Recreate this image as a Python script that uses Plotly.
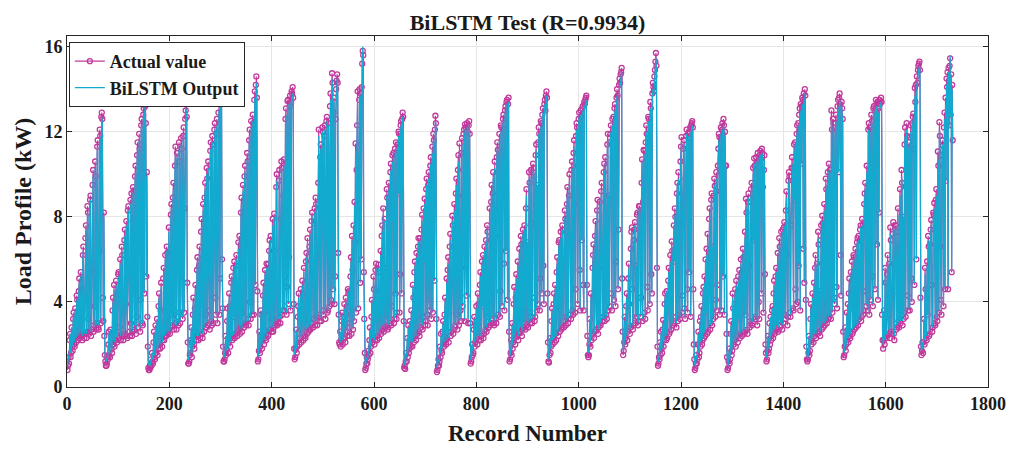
import plotly.graph_objects as go

TITLE = "BiLSTM Test (R=0.9934)"
X_LABEL = "Record Number"
Y_LABEL = "Load Profile (kW)"
SERIES_NAMES = ["Actual value", "BiLSTM Output"]
X_TICKS = [0, 200, 400, 600, 800, 1000, 1200, 1400, 1600, 1800]
Y_TICKS = [0, 4, 8, 12, 16]

# Actual load profile (kW), one line per load cycle
actual_kw = [
    0.8,1.0,1.4,1.1,2.2,2.5,1.4,1.6,2.8,1.9,1.7,3.2,3.5,2.0,1.9,3.7,2.6,2.1,4.3,4.1,2.2,2.4,4.5,5.1,2.3,2.5,5.4,4.6,2.4,2.2,6.2,6.6,2.5,2.3,4.1,7.0,7.6,2.3,2.6,8.5,8.2,3.2,2.5,2.6,8.8,9.0,2.4,2.7,5.5,9.5,10.2,2.6,2.9,3.8,10.6,9.9,2.7,3.0,11.3,11.6,2.8,2.7,6.4,12.1,11.8,3.0,12.7,12.9,12.6,4.2,3.1,8.2,2.4,1.5,1.2,1.0,
    1.0,1.1,1.4,1.3,2.0,2.6,1.5,1.4,2.7,2.2,1.8,1.6,3.6,4.2,2.0,4.8,1.9,2.2,3.9,5.0,2.2,2.1,4.4,5.3,5.4,2.3,2.8,6.0,2.2,2.5,6.6,6.2,3.5,2.2,2.4,6.9,7.4,2.5,3.9,7.8,2.4,2.3,8.3,8.5,5.2,2.6,2.4,8.8,3.0,9.1,2.4,2.6,9.4,9.2,4.6,2.7,9.9,10.4,2.5,3.3,10.9,11.5,2.8,6.3,11.9,11.2,2.6,4.1,12.3,12.6,3.0,2.9,12.8,13.1,4.4,13.4,13.2,12.4,5.2,10.1,3.3,1.9,0.9,0.8,
    0.8,1.0,0.9,1.3,1.0,1.6,1.2,1.1,2.1,2.6,1.4,1.3,2.9,1.6,2.4,3.2,1.5,1.8,3.8,4.4,2.0,1.8,3.6,4.9,2.3,1.9,2.2,5.1,5.6,2.2,2.4,6.2,3.1,2.4,6.6,6.3,2.5,2.6,7.5,4.8,2.5,2.8,8.1,8.6,3.4,2.9,8.9,9.6,2.7,3.6,10.4,11.3,3.0,2.7,11.0,7.8,3.3,2.9,11.5,10.6,3.0,3.5,11.7,11.2,5.0,3.2,11.8,12.2,3.5,8.4,12.6,13.0,13.3,12.7,4.9,2.1,1.1,
    1.1,1.2,1.5,1.6,2.2,2.8,1.4,1.9,3.4,4.2,2.0,1.8,3.7,4.8,2.6,2.2,5.5,6.1,2.4,2.2,5.7,6.6,2.3,3.9,7.3,7.9,2.5,2.3,8.6,5.2,2.6,8.9,9.6,3.4,2.8,10.3,9.8,2.9,10.6,6.7,3.6,2.7,11.1,11.5,3.1,2.9,11.8,11.4,3.0,8.0,12.1,12.4,4.2,3.4,11.9,12.6,3.0,9.6,12.9,13.3,3.4,5.1,13.6,13.9,14.0,6.0,3.7,1.9,1.2,
    1.2,1.3,1.6,2.4,1.5,1.8,3.1,3.7,1.6,2.1,4.4,3.8,1.9,2.4,4.9,5.2,2.2,2.3,5.6,3.3,5.9,2.3,2.5,5.7,6.2,2.6,2.4,4.6,6.8,2.7,7.1,2.5,2.8,8.2,8.9,2.6,3.5,9.5,5.9,2.8,9.9,10.4,3.0,2.9,7.2,11.0,10.6,3.2,2.9,11.6,12.1,4.0,3.2,12.5,8.3,3.4,12.8,12.4,3.4,13.5,13.9,4.8,14.2,14.6,13.6,4.5,
    1.2,1.3,1.7,2.6,1.6,1.9,3.6,3.4,1.8,2.2,4.3,4.9,2.0,2.6,5.5,2.3,2.2,5.8,3.6,5.75,2.4,2.5,6.4,6.9,2.7,7.1,5.1,2.6,3.2,7.9,2.6,2.8,8.15,6.4,2.9,3.1,9.4,10.0,2.9,4.4,3.0,9.7,10.2,3.3,3.0,7.9,10.6,10.3,3.4,3.6,9.0,10.7,3.6,5.2,12.6,13.1,3.4,4.7,13.45,13.5,3.9,6.1,13.2,13.7,3.6,13.4,13.9,13.8,14.1,13.6,3.9,1.8,
    1.3,1.4,1.8,2.7,1.6,1.9,3.3,3.8,4.4,2.0,2.3,3.6,4.6,2.1,2.7,5.0,4.4,2.2,5.6,3.1,2.4,2.3,5.9,6.3,2.5,7.0,4.2,2.6,2.7,6.6,7.4,2.7,3.0,7.8,8.2,5.3,2.8,3.2,7.7,8.4,2.9,8.9,8.6,3.3,2.9,6.1,9.6,12.1,3.4,3.1,10.8,11.4,3.1,7.4,12.2,12.0,3.4,3.6,11.8,12.3,3.2,8.8,12.5,12.7,3.5,3.6,12.4,10.3,3.8,13.2,13.8,4.1,3.9,14.75,14.3,4.6,12.9,13.6,3.9,5.2,12.6,14.0,14.4,14.7,14.3,6.3,3.4,2.1,
    2.0,2.6,1.9,2.2,3.1,3.5,2.0,2.3,2.8,3.9,2.3,2.1,4.2,3.4,2.6,2.4,4.6,4.4,4.5,2.4,3.0,5.2,6.1,2.5,7.1,5.5,2.7,7.6,3.1,8.7,6.8,11.45,3.5,10.2,12.3,13.9,3.7,8.5,13.5,14.0,4.9,13.8,6.0,14.1,15.2,15.8,15.6,5.4,3.2,1.6,
    0.8,0.9,1.1,1.4,1.1,1.3,1.7,1.5,2.2,2.8,1.6,1.9,3.3,4.1,2.1,2.3,5.2,4.6,2.0,2.2,5.5,5.8,3.2,2.2,2.4,5.4,5.75,2.3,2.6,4.5,6.4,2.5,7.1,7.6,2.7,8.4,2.6,5.6,7.9,2.8,2.9,3.4,9.3,8.9,2.7,2.8,9.6,6.7,3.0,10.1,10.5,2.9,3.8,10.9,7.8,11.0,3.0,3.2,11.2,4.4,11.5,3.2,3.5,11.4,9.1,12.0,11.9,3.5,5.3,12.3,12.5,4.4,12.6,12.9,12.7,3.1,
    0.9,1.0,0.85,1.2,1.6,1.2,2.3,1.4,2.9,1.6,1.8,3.1,2.0,1.9,3.6,2.3,1.9,4.8,4.2,2.1,5.4,5.9,2.4,2.2,6.3,3.7,2.5,6.6,7.0,2.6,2.4,7.0,4.6,2.8,7.4,8.1,2.7,3.3,8.4,5.9,8.85,2.9,3.1,9.3,9.8,3.4,2.9,9.5,10.1,4.1,3.6,10.4,10.8,3.2,8.2,11.3,3.5,11.9,11.6,5.0,12.1,12.75,12.4,3.2,
    0.7,0.8,1.0,1.3,1.0,1.2,1.9,1.4,2.5,1.7,1.6,2.6,3.1,2.0,1.9,3.4,4.2,2.2,2.0,5.1,2.3,5.5,6.1,2.1,3.5,6.6,7.2,2.4,2.6,4.9,8.05,7.6,2.5,2.7,8.6,6.3,2.9,9.1,9.8,3.4,2.7,10.2,10.9,2.9,11.45,7.5,3.6,3.1,11.0,11.7,3.8,9.0,11.9,12.1,3.1,12.35,12.2,5.6,4.3,12.4,12.0,3.0,12.3,12.5,11.9,3.0,
    1.1,1.2,1.4,2.0,1.5,1.6,2.7,3.3,1.9,2.1,2.9,3.8,2.3,2.0,4.4,3.9,2.2,2.6,4.8,5.4,2.2,2.4,5.9,3.8,6.2,2.3,2.5,6.6,4.7,2.7,6.9,2.6,7.6,7.3,3.3,2.8,5.8,8.4,2.9,3.0,8.7,9.5,3.2,9.1,10.1,3.0,2.9,10.6,7.1,3.2,3.0,10.8,11.5,11.15,3.4,8.4,11.9,3.3,4.5,12.3,12.2,3.8,9.7,12.6,12.8,5.8,3.6,13.0,13.2,6.4,13.4,13.5,4.1,13.3,13.6,2.6,
    1.2,1.3,1.6,2.2,1.5,3.0,1.8,2.1,3.9,4.7,2.3,2.0,4.2,5.3,2.4,3.6,5.9,2.2,2.5,6.5,4.3,2.6,7.1,6.7,2.4,2.7,7.4,5.6,2.8,7.6,3.2,2.7,8.4,9.3,2.9,6.8,2.8,3.5,10.1,9.6,3.0,3.3,10.2,7.7,3.0,4.2,10.5,10.3,9.9,3.1,3.3,10.9,11.4,3.6,9.5,3.9,11.5,12.2,11.9,3.6,5.1,12.5,12.4,4.4,12.8,13.1,5.7,3.9,13.3,13.5,13.0,13.7,13.9,13.6,4.4,2.1,
    1.2,1.15,1.5,2.3,1.6,1.9,3.1,3.7,2.0,2.3,3.9,4.4,2.1,4.8,2.5,2.2,5.4,6.1,3.8,2.4,6.8,6.9,2.6,4.5,7.3,2.7,2.8,7.6,7.4,3.1,2.8,5.9,8.3,7.9,2.9,3.3,8.6,9.4,3.0,3.2,9.0,10.0,7.2,3.4,3.2,10.2,10.6,3.6,3.4,11.0,11.6,8.6,3.5,4.6,11.8,12.4,12.2,3.9,10.4,12.6,12.9,5.5,3.6,13.0,12.7,6.9,13.1,13.2,4.8,3.6,13.4,13.3,13.5,13.6,13.7,4.8,2.4,1.5,
    1.4,1.5,2.0,3.2,1.9,4.4,2.2,2.5,5.6,6.2,6.7,2.3,2.6,7.1,7.8,4.1,2.7,8.3,8.8,2.5,2.8,5.6,8.7,3.0,2.9,9.2,9.6,6.4,3.1,3.3,10.1,10.5,3.1,10.8,8.1,3.4,3.2,11.4,11.9,3.6,9.0,3.8,11.5,11.9,12.3,4.4,3.6,12.6,10.8,12.7,4.1,13.1,13.3,3.8,5.9,13.6,14.0,13.7,4.6,7.4,14.2,14.5,14.3,14.7,14.8,15.0,5.1,2.6,
    1.5,1.7,2.1,3.3,2.0,2.3,3.8,4.4,2.2,2.6,5.1,5.8,3.9,2.5,2.8,6.5,7.3,7.5,4.6,2.7,2.9,6.9,7.4,7.75,3.0,5.7,3.3,8.1,8.2,2.9,3.1,8.5,8.5,8.2,3.3,4.2,9.6,10.7,3.1,8.7,11.15,11.1,3.5,3.2,11.5,12.3,11.9,4.7,3.6,12.7,12.6,10.2,3.9,13.4,13.1,5.3,4.4,13.8,14.3,14.1,13.9,14.6,14.9,15.3,15.7,15.1,5.6,1.9,
    1.0,1.1,1.4,1.3,2.1,1.5,2.6,1.8,1.6,2.7,3.15,1.9,2.2,3.9,4.4,2.4,2.2,4.5,2.3,3.6,5.0,5.6,2.5,2.6,6.2,4.8,2.7,6.85,6.4,2.9,3.0,7.6,5.9,8.4,8.0,3.3,2.8,9.1,9.6,3.1,10.1,7.7,3.4,3.2,10.6,11.3,11.75,3.5,4.3,8.9,11.2,11.6,3.7,3.2,9.8,11.8,12.1,4.6,3.5,11.9,11.7,5.4,12.0,12.2,3.3,12.3,12.4,12.5,12.2,4.6,2.0,1.3,
    0.8,0.9,1.1,1.5,1.1,1.3,2.0,2.6,1.4,1.6,3.1,1.9,3.3,3.8,2.0,2.2,4.4,4.7,2.3,5.2,2.4,6.0,3.5,6.5,2.5,7.2,2.6,5.4,7.9,8.4,2.7,3.0,8.8,9.1,2.9,6.6,3.2,9.0,9.8,9.45,3.3,4.1,10.1,3.6,4.8,10.4,11.2,11.9,11.75,3.4,9.2,12.2,3.6,12.1,12.4,5.2,12.6,12.3,3.4,12.0,10.4,10.4,2.5,1.4,
    0.8,0.9,1.2,1.8,1.1,1.3,2.5,3.1,1.5,1.7,4.4,3.7,2.0,2.2,3.9,4.6,1.9,5.0,4.3,2.4,2.1,5.2,3.2,5.5,2.3,2.5,6.0,5.1,2.4,4.1,6.5,6.1,2.6,2.5,7.3,3.4,8.85,8.2,2.7,2.5,8.7,9.1,5.7,2.8,3.1,8.9,9.3,9.6,2.9,3.0,10.3,6.9,10.75,10.4,3.3,3.2,10.8,8.2,2.9,11.0,10.6,4.0,3.2,10.9,11.1,10.7,4.4,11.2,11.0,9.4,3.5,10.2,10.9,5.3,2.0,1.6,
    1.2,1.3,1.7,2.4,1.6,1.8,3.0,2.0,3.3,2.2,2.4,3.6,3.8,2.3,4.4,5.0,2.5,2.6,5.2,5.6,2.8,4.4,6.3,2.6,2.7,7.0,6.6,3.1,2.9,7.3,5.0,2.7,7.4,3.0,7.5,7.75,3.4,3.2,8.3,9.2,6.2,2.9,3.3,9.7,10.1,9.9,3.5,3.3,7.6,10.3,10.8,10.3,3.7,3.6,11.4,8.8,11.5,4.6,3.9,11.9,12.3,4.0,12.4,5.7,12.8,13.1,3.6,13.3,10.5,13.2,13.6,13.5,6.5,13.8,4.9,14.0,13.7,4.1,1.9,1.3,
    1.2,1.3,1.6,2.4,1.5,1.7,3.2,3.9,2.0,2.2,4.4,3.6,2.1,4.9,2.4,5.6,6.2,2.3,3.5,5.8,2.5,7.3,6.7,2.6,4.5,2.4,6.9,7.6,2.7,8.05,7.7,2.8,5.3,8.6,2.9,3.1,9.8,9.3,3.0,6.6,10.1,3.2,10.5,3.3,10.2,8.5,3.2,13.0,12.1,3.5,12.6,12.4,4.2,3.9,11.9,12.4,12.8,4.7,3.7,13.2,13.5,10.1,13.6,13.8,13.3,6.2,4.3,13.4,13.1,12.6,2.6,
    1.4,1.5,1.9,2.8,1.7,2.0,3.5,2.2,3.9,2.1,4.4,5.1,2.4,2.3,5.4,3.7,5.9,2.5,2.6,6.2,6.1,2.7,4.6,6.5,2.8,3.0,6.8,7.0,2.9,7.1,3.2,5.8,7.4,7.6,3.1,3.3,7.9,7.6,3.4,3.6,8.6,9.1,9.6,4.5,3.8,10.4,7.3,3.6,12.1,12.4,3.4,12.2,9.0,4.1,12.8,12.5,5.2,3.8,13.1,13.2,10.6,4.6,13.0,13.5,13.3,6.7,13.4,4.1,13.1,8.2,13.5,13.3,13.4,13.6,13.4,3.4,2.2,
    1.8,2.2,3.6,2.0,5.6,4.9,2.4,2.3,5.3,6.2,3.3,2.5,5.8,2.3,7.5,6.9,2.6,2.5,4.4,7.2,7.75,2.5,2.2,7.6,5.6,7.6,2.7,2.8,7.3,8.4,3.1,2.8,6.5,9.3,3.0,3.4,10.2,9.6,2.9,8.0,3.2,3.5,11.4,12.2,3.3,9.4,12.4,11.8,4.3,3.6,11.2,11.5,3.6,11.75,12.3,5.1,4.0,12.4,12.7,12.85,11.2,4.8,14.06,13.4,14.2,6.0,14.6,14.3,14.9,15.1,15.2,15.3,14.9,4.2,1.9,
    1.5,1.7,2.1,1.6,2.1,3.2,2.0,5.6,4.6,2.3,2.2,5.9,3.4,7.1,6.6,2.4,2.5,6.7,7.4,7.85,4.8,2.6,2.8,8.2,8.1,8.65,3.0,2.9,8.8,9.3,3.3,3.1,11.07,10.4,3.5,12.45,11.8,6.6,4.1,3.4,10.9,11.6,11.35,3.8,12.2,12.9,4.6,13.6,9.7,14.5,14.1,14.8,4.6,15.0,12.3,15.1,15.45,12.8,14.7,5.4,14.2,11.6,
]

# BiLSTM model output (kW), same cycles
bilstm_kw = [
    1.0,1.2,1.5,1.3,2.3,2.5,1.6,1.8,2.8,2.1,1.9,3.1,3.4,2.2,2.1,3.6,2.7,2.3,4.1,4.0,2.4,2.6,4.4,4.9,2.5,2.7,5.2,4.5,2.6,2.4,6.0,6.4,2.7,2.5,4.1,6.8,7.4,2.5,2.8,8.2,8.0,3.3,2.7,2.8,8.6,8.8,2.6,2.9,5.5,9.2,9.9,2.8,3.1,3.9,10.3,9.7,2.9,3.2,11.0,11.3,3.0,2.9,6.5,11.8,11.6,3.2,12.4,12.7,12.4,4.3,3.3,8.0,2.6,1.7,1.4,1.2,
    1.2,1.3,1.5,1.5,2.1,2.5,1.7,1.6,2.7,2.3,2.0,1.8,3.5,4.0,2.2,4.6,2.1,2.4,3.9,4.8,2.4,2.3,4.4,5.1,5.2,2.5,2.9,5.8,2.4,2.7,6.4,6.1,3.5,2.4,2.6,6.7,7.1,2.7,3.9,7.6,2.6,2.5,8.0,8.3,5.2,2.8,2.6,8.6,3.1,8.9,2.6,2.8,9.1,9.1,4.6,2.9,9.6,10.1,2.7,3.4,10.6,11.2,3.0,6.3,11.6,11.0,2.8,4.2,12.0,12.3,3.1,3.0,12.6,12.9,4.5,13.2,13.0,12.2,5.2,9.9,3.4,2.1,1.1,1.0,
    1.0,1.1,1.0,1.3,1.2,1.6,1.3,1.3,2.1,2.5,1.5,1.5,2.8,1.8,2.5,3.1,1.7,2.0,3.7,4.2,2.1,2.0,3.6,4.7,2.4,2.1,2.4,5.0,5.4,2.4,2.6,6.0,3.2,2.5,6.4,6.2,2.6,2.7,7.3,4.8,2.6,2.9,7.9,8.4,3.4,3.0,8.7,9.3,2.9,3.6,10.1,11.0,3.1,2.9,10.8,7.7,3.4,3.0,11.2,10.5,3.1,3.6,11.4,11.0,5.0,3.3,11.5,11.9,3.6,8.4,12.3,12.8,13.1,12.5,5.0,2.3,1.3,
    1.3,1.4,1.6,1.8,2.3,2.8,1.6,2.0,3.3,4.0,2.2,2.0,3.7,4.6,2.7,2.4,5.3,5.9,2.6,2.4,5.6,6.4,2.5,3.9,7.0,7.6,2.7,2.5,8.3,5.2,2.8,8.7,9.3,3.5,3.0,10.0,9.7,3.1,10.3,6.7,3.7,2.9,10.8,11.2,3.2,3.1,11.5,11.3,3.2,8.0,11.8,12.1,4.3,3.5,11.8,12.3,3.2,9.5,12.6,13.0,3.5,5.2,13.3,13.6,13.8,6.0,3.8,2.1,1.4,
    1.4,1.5,1.7,2.4,1.7,2.0,3.0,3.6,1.8,2.3,4.2,3.8,2.1,2.6,4.7,5.1,2.4,2.5,5.4,3.3,5.7,2.5,2.7,5.6,6.0,2.8,2.6,4.6,6.5,2.9,6.9,2.7,3.0,7.9,8.6,2.8,3.5,9.2,5.9,3.0,9.7,10.1,3.1,3.1,7.2,10.7,10.5,3.3,3.1,11.3,11.8,4.1,3.3,12.2,8.3,3.5,12.5,12.3,3.5,13.2,13.6,4.9,13.9,14.3,13.4,4.6,
    1.4,1.5,1.7,2.5,1.8,2.1,3.5,3.3,2.0,2.4,4.1,4.7,2.2,2.7,5.3,2.5,2.4,5.6,3.6,5.6,2.6,2.7,6.2,6.7,2.8,6.9,5.1,2.8,3.3,7.6,2.8,3.0,8.0,6.4,3.1,3.2,9.1,9.7,3.1,4.5,3.2,9.6,9.9,3.4,3.2,7.9,10.3,10.1,3.5,3.7,9.0,10.4,3.7,5.3,12.3,12.8,3.5,4.8,13.2,13.3,4.0,6.1,13.0,13.4,3.7,13.3,13.6,13.6,13.8,13.4,4.0,2.0,
    1.5,1.6,1.8,2.6,1.8,2.1,3.2,3.7,4.2,2.2,2.5,3.6,4.4,2.3,2.8,4.8,4.4,2.4,5.4,3.1,2.6,2.5,5.7,6.1,2.7,6.8,4.2,2.8,2.9,6.5,7.2,2.9,3.1,7.6,8.0,5.3,3.0,3.3,7.6,8.2,3.1,8.7,8.5,3.4,3.1,6.1,9.3,11.8,3.5,3.2,10.6,11.2,3.3,7.4,12.0,11.8,3.5,3.7,11.7,12.1,3.4,8.8,12.3,12.5,3.6,3.7,12.3,10.3,3.9,12.9,13.5,4.2,4.0,14.5,14.1,4.7,12.8,13.4,4.0,5.3,12.5,13.8,14.2,14.5,14.1,6.3,3.5,2.3,
    2.2,2.6,2.1,2.4,3.0,3.4,2.2,2.5,2.8,3.7,2.5,2.3,4.0,3.4,2.7,2.6,4.5,4.4,4.4,2.6,3.1,5.0,5.9,2.7,6.9,5.5,2.8,7.4,3.2,8.5,6.8,11.1,3.6,10.1,12.0,13.6,3.8,8.5,13.4,13.8,5.0,13.7,6.1,14.0,15.4,16.0,15.4,5.5,3.3,1.8,
    1.0,1.1,1.2,1.4,1.3,1.4,1.7,1.7,2.2,2.7,1.8,2.1,3.2,4.0,2.3,2.5,5.0,4.6,2.2,2.4,5.3,5.6,3.2,2.4,2.6,5.3,5.6,2.5,2.8,4.5,6.2,2.7,6.8,7.3,2.9,8.1,2.8,5.6,7.8,3.0,3.0,3.4,9.0,8.8,2.9,3.0,9.3,6.7,3.1,9.8,10.2,3.1,3.8,10.6,7.8,10.8,3.2,3.3,11.0,4.5,11.2,3.4,3.6,11.3,9.1,11.8,11.7,3.6,5.3,12.0,12.3,4.5,12.4,12.7,12.5,3.2,
    1.1,1.1,1.0,1.3,1.6,1.4,2.3,1.6,2.8,1.8,2.0,3.1,2.2,2.1,3.5,2.4,2.1,4.7,4.1,2.3,5.2,5.7,2.6,2.4,6.1,3.7,2.7,6.5,6.8,2.8,2.6,6.9,4.6,3.0,7.2,7.8,2.9,3.4,8.3,5.9,8.6,3.1,3.2,9.1,9.5,3.5,3.1,9.4,9.8,4.2,3.7,10.1,10.5,3.3,8.2,11.0,3.6,11.6,11.5,5.1,11.8,12.5,12.2,3.4,
    0.9,1.0,1.1,1.3,1.2,1.3,1.9,1.6,2.4,1.9,1.8,2.7,3.0,2.2,2.1,3.4,4.0,2.4,2.2,4.9,2.5,5.4,5.8,2.3,3.5,6.3,6.9,2.6,2.8,4.9,7.8,7.4,2.7,2.9,8.3,6.3,3.0,8.8,9.5,3.5,2.9,9.9,10.6,3.1,11.1,7.5,3.7,3.2,10.8,11.4,3.9,9.0,11.6,11.9,3.2,12.1,12.0,5.6,4.4,12.2,11.9,3.2,12.1,12.3,11.7,3.1,
    1.3,1.3,1.5,2.0,1.7,1.8,2.7,3.2,2.1,2.3,2.9,3.7,2.4,2.2,4.2,3.9,2.4,2.7,4.7,5.2,2.4,2.6,5.7,3.8,6.0,2.5,2.7,6.4,4.7,2.9,6.8,2.8,7.4,7.2,3.4,3.0,5.8,8.2,3.1,3.1,8.5,9.2,3.3,9.0,9.8,3.2,3.1,10.3,7.1,3.4,3.2,10.6,11.2,10.9,3.5,8.4,11.6,3.4,4.6,12.0,12.0,3.9,9.7,12.3,12.5,5.8,3.7,12.7,13.0,6.4,13.1,13.3,4.2,13.1,13.4,2.8,
    1.4,1.5,1.7,2.2,1.7,2.9,2.0,2.3,3.8,4.5,2.5,2.2,4.2,5.1,2.6,3.6,5.7,2.4,2.7,6.3,4.3,2.8,6.8,6.6,2.6,2.9,7.2,5.6,3.0,7.4,3.3,2.9,8.2,9.0,3.1,6.8,3.0,3.6,9.8,9.5,3.1,3.4,9.9,7.7,3.2,4.3,10.2,10.1,9.8,3.3,3.4,10.6,11.1,3.7,9.5,4.0,11.3,11.9,11.7,3.7,5.2,12.2,12.2,4.5,12.5,12.9,5.8,4.0,13.0,13.3,12.9,13.5,13.7,13.4,4.5,2.3,
    1.4,1.3,1.6,2.3,1.8,2.1,3.0,3.6,2.2,2.5,3.9,4.2,2.3,4.6,2.6,2.4,5.2,5.8,3.8,2.6,6.5,6.7,2.8,4.5,7.0,2.9,3.0,7.4,7.3,3.2,3.0,5.9,8.0,7.8,3.1,3.4,8.4,9.1,3.2,3.3,8.8,9.7,7.2,3.5,3.3,9.9,10.3,3.7,3.5,10.7,11.3,8.6,3.6,4.7,11.6,12.1,12.0,4.0,10.4,12.3,12.7,5.6,3.7,12.8,12.6,6.9,12.9,13.0,4.9,3.7,13.2,13.1,13.3,13.4,13.5,4.9,2.6,1.7,
    1.6,1.7,2.0,3.1,2.1,4.2,2.3,2.6,5.3,5.9,6.4,2.5,2.7,6.9,7.5,4.1,2.9,8.0,8.6,2.7,3.0,5.6,8.6,3.1,3.0,8.9,9.3,6.4,3.2,3.4,9.9,10.2,3.2,10.5,8.1,3.5,3.3,11.1,11.6,3.7,9.0,3.9,11.4,11.6,12.0,4.5,3.7,12.3,10.8,12.6,4.2,12.8,13.0,3.9,6.0,13.3,13.7,13.6,4.7,7.4,13.9,14.2,14.1,14.4,14.6,14.8,5.2,2.8,
    1.7,1.9,2.1,3.1,2.2,2.4,3.8,4.2,2.4,2.7,4.9,5.6,3.9,2.7,2.9,6.3,7.0,7.3,4.6,2.9,3.0,6.8,7.3,7.6,3.1,5.7,3.4,7.9,8.1,3.0,3.2,8.3,8.4,8.1,3.4,4.3,9.3,10.6,3.2,8.7,10.9,10.9,3.6,3.3,11.3,12.0,11.8,4.8,3.7,12.4,12.5,10.2,4.0,13.1,12.9,5.4,4.5,13.5,14.0,13.9,13.7,14.3,14.7,15.1,15.5,14.9,5.7,2.1,
    1.2,1.2,1.4,1.4,2.1,1.7,2.5,1.9,1.8,2.7,3.0,2.1,2.3,3.8,4.2,2.5,2.4,4.5,2.5,3.6,4.8,5.4,2.7,2.7,5.9,4.8,2.9,6.6,6.3,3.0,3.1,7.3,5.9,8.1,7.9,3.4,3.0,8.8,9.5,3.2,9.8,7.7,3.5,3.3,10.3,11.0,11.5,3.6,4.4,8.9,11.1,11.4,3.8,3.3,9.8,11.6,11.9,4.7,3.6,11.8,11.6,5.5,11.8,12.0,3.4,12.1,12.2,12.3,12.0,4.7,2.2,1.5,
    1.0,1.0,1.2,1.5,1.3,1.4,2.0,2.5,1.6,1.8,2.9,2.1,3.3,3.6,2.2,2.4,4.2,4.7,2.5,4.9,2.6,5.9,3.5,6.2,2.7,6.9,2.8,5.4,7.8,8.1,2.9,3.1,8.5,8.9,3.0,6.6,3.3,8.9,9.5,9.3,3.4,4.2,9.8,3.7,4.9,10.1,11.1,11.6,11.5,3.5,9.2,11.9,3.7,11.9,12.1,5.3,12.3,12.1,3.5,11.8,10.3,10.3,2.7,1.6,
    1.0,1.0,1.3,1.7,1.3,1.4,2.4,2.9,1.7,1.9,4.2,3.7,2.1,2.4,3.9,4.5,2.1,4.8,4.3,2.5,2.3,5.0,3.2,5.3,2.5,2.6,5.8,5.0,2.6,4.1,6.3,6.0,2.8,2.7,7.0,3.4,8.5,8.1,2.9,2.7,8.5,8.9,5.7,3.0,3.2,8.8,9.1,9.3,3.1,3.1,10.0,6.9,10.5,10.3,3.4,3.3,10.6,8.2,3.1,10.8,10.5,4.1,3.3,10.7,10.9,10.6,4.5,11.0,10.9,9.4,3.6,10.1,10.7,5.4,2.2,1.8,
    1.4,1.4,1.7,2.3,1.8,2.0,2.9,2.2,3.3,2.4,2.6,3.6,3.7,2.5,4.2,4.8,2.7,2.8,5.1,5.4,2.9,4.4,6.0,2.8,2.9,6.7,6.5,3.2,3.0,7.1,5.0,2.9,7.3,3.1,7.4,7.6,3.5,3.3,8.0,8.9,6.2,3.1,3.4,9.5,9.8,9.8,3.6,3.4,7.6,10.1,10.5,10.2,3.8,3.7,11.1,8.8,11.4,4.7,4.0,11.6,12.0,4.1,12.3,5.8,12.5,12.8,3.7,13.0,10.5,13.1,13.3,13.3,6.5,13.5,5.0,13.8,13.5,4.2,2.1,1.5,
    1.4,1.4,1.6,2.3,1.7,1.9,3.1,3.7,2.2,2.4,4.2,3.6,2.3,4.7,2.5,5.3,5.9,2.5,3.5,5.7,2.7,7.0,6.6,2.8,4.5,2.6,6.8,7.4,2.9,7.8,7.6,3.0,5.3,8.3,3.0,3.2,9.5,9.2,3.1,6.6,9.8,3.3,10.2,3.4,10.1,8.5,3.3,12.6,11.9,3.6,12.3,12.3,4.3,4.0,11.8,12.2,12.5,4.8,3.8,12.9,13.2,10.1,13.4,13.5,13.1,6.2,4.4,13.2,12.9,12.4,2.8,
    1.6,1.6,1.9,2.7,1.9,2.1,3.4,2.3,3.8,2.3,4.2,4.9,2.5,2.5,5.3,3.7,5.6,2.7,2.8,6.0,6.0,2.8,4.6,6.3,2.9,3.1,6.7,6.8,3.0,6.9,3.3,5.8,7.2,7.5,3.2,3.4,7.6,7.5,3.5,3.7,8.3,8.9,9.3,4.6,3.9,10.1,7.3,3.7,11.8,12.1,3.5,12.0,9.0,4.2,12.5,12.3,5.3,3.9,12.8,13.0,10.6,4.7,12.9,13.2,13.1,6.7,13.2,4.2,12.9,8.2,13.3,13.1,13.2,13.4,13.2,3.5,2.4,
    2.0,2.3,3.5,2.2,5.3,4.9,2.5,2.5,5.1,5.9,3.3,2.7,5.7,2.5,7.2,6.8,2.8,2.7,4.4,7.1,7.5,2.7,2.4,7.4,5.6,7.5,2.9,3.0,7.2,8.1,3.2,3.0,6.5,9.0,3.1,3.5,9.9,9.5,3.1,8.0,3.3,3.6,11.2,11.8,3.4,9.4,12.1,11.6,4.4,3.7,11.1,11.4,3.7,11.5,12.0,5.2,4.1,12.2,12.5,12.6,11.2,4.9,13.7,13.3,13.9,6.0,14.3,14.1,14.6,14.9,15.0,15.1,14.8,4.3,2.1,
    1.7,1.8,2.1,1.8,2.2,3.1,2.2,5.3,4.6,2.5,2.4,5.7,3.4,6.9,6.5,2.6,2.7,6.6,7.3,7.6,4.8,2.8,3.0,8.0,8.0,8.4,3.1,3.1,8.6,9.0,3.4,3.2,10.7,10.3,3.6,12.1,11.6,6.6,4.2,3.5,10.8,11.4,11.2,3.9,11.9,12.6,4.7,13.3,9.7,14.2,13.9,14.6,4.7,14.8,12.2,15.0,15.6,12.7,14.5,5.5,14.0,11.5,
]

MAGENTA = "#C2389C"
CYAN = "#12AACF"
AXIS_COLOR = "#262626"
FONT = "Liberation Serif"

n = min(len(actual_kw), len(bilstm_kw))
records = list(range(1, n + 1))

fig = go.Figure()
fig.add_trace(go.Scatter(
    x=records, y=actual_kw[:n], name=SERIES_NAMES[0], mode="lines+markers",
    line=dict(color=MAGENTA, width=1.2),
    marker=dict(symbol="circle-open", size=5, color=MAGENTA, line=dict(width=1.3, color=MAGENTA)),
))
fig.add_trace(go.Scatter(
    x=records, y=bilstm_kw[:n], name=SERIES_NAMES[1], mode="lines",
    line=dict(color=CYAN, width=1.2),
))

axis_common = dict(
    showgrid=True, gridcolor="#E6E6E6", gridwidth=1, zeroline=False,
    showline=True, linecolor=AXIS_COLOR, linewidth=1, mirror="ticks",
    ticks="inside", ticklen=5, tickcolor=AXIS_COLOR, tickwidth=1,
    tickfont=dict(family=FONT, size=18, color="#1a1a1a", weight="bold"),
)

# the page adds an 8px body margin, so the figure is sized 8px smaller on each offset side
fig.update_layout(
    width=1010, height=446,
    margin=dict(l=59, r=24, t=28, b=51),
    paper_bgcolor="white", plot_bgcolor="white",
    font=dict(family=FONT, color="#1a1a1a"),
    title=dict(text=TITLE, x=0.5, xref="paper", xanchor="center",
               y=1 - 14 / 446, yref="container", yanchor="middle",
               font=dict(family=FONT, size=22, color="#1a1a1a", weight="bold")),
    xaxis=dict(range=[0, 1800], tickvals=X_TICKS,
               title=dict(text=X_LABEL, standoff=12,
                          font=dict(family=FONT, size=23, color="#1a1a1a", weight="bold")),
               **axis_common),
    yaxis=dict(range=[0, 16.5], tickvals=Y_TICKS,
               title=dict(text=Y_LABEL, standoff=6,
                          font=dict(family=FONT, size=24, color="#1a1a1a", weight="bold")),
               **axis_common),
    legend=dict(x=0.002, y=0.983, xanchor="left", yanchor="top",
                bgcolor="white", bordercolor=AXIS_COLOR, borderwidth=1,
                font=dict(family=FONT, size=18, color="#1a1a1a", weight="bold"),
                itemwidth=30, tracegroupgap=0),
    showlegend=True,
)

fig.write_html("out.html")
